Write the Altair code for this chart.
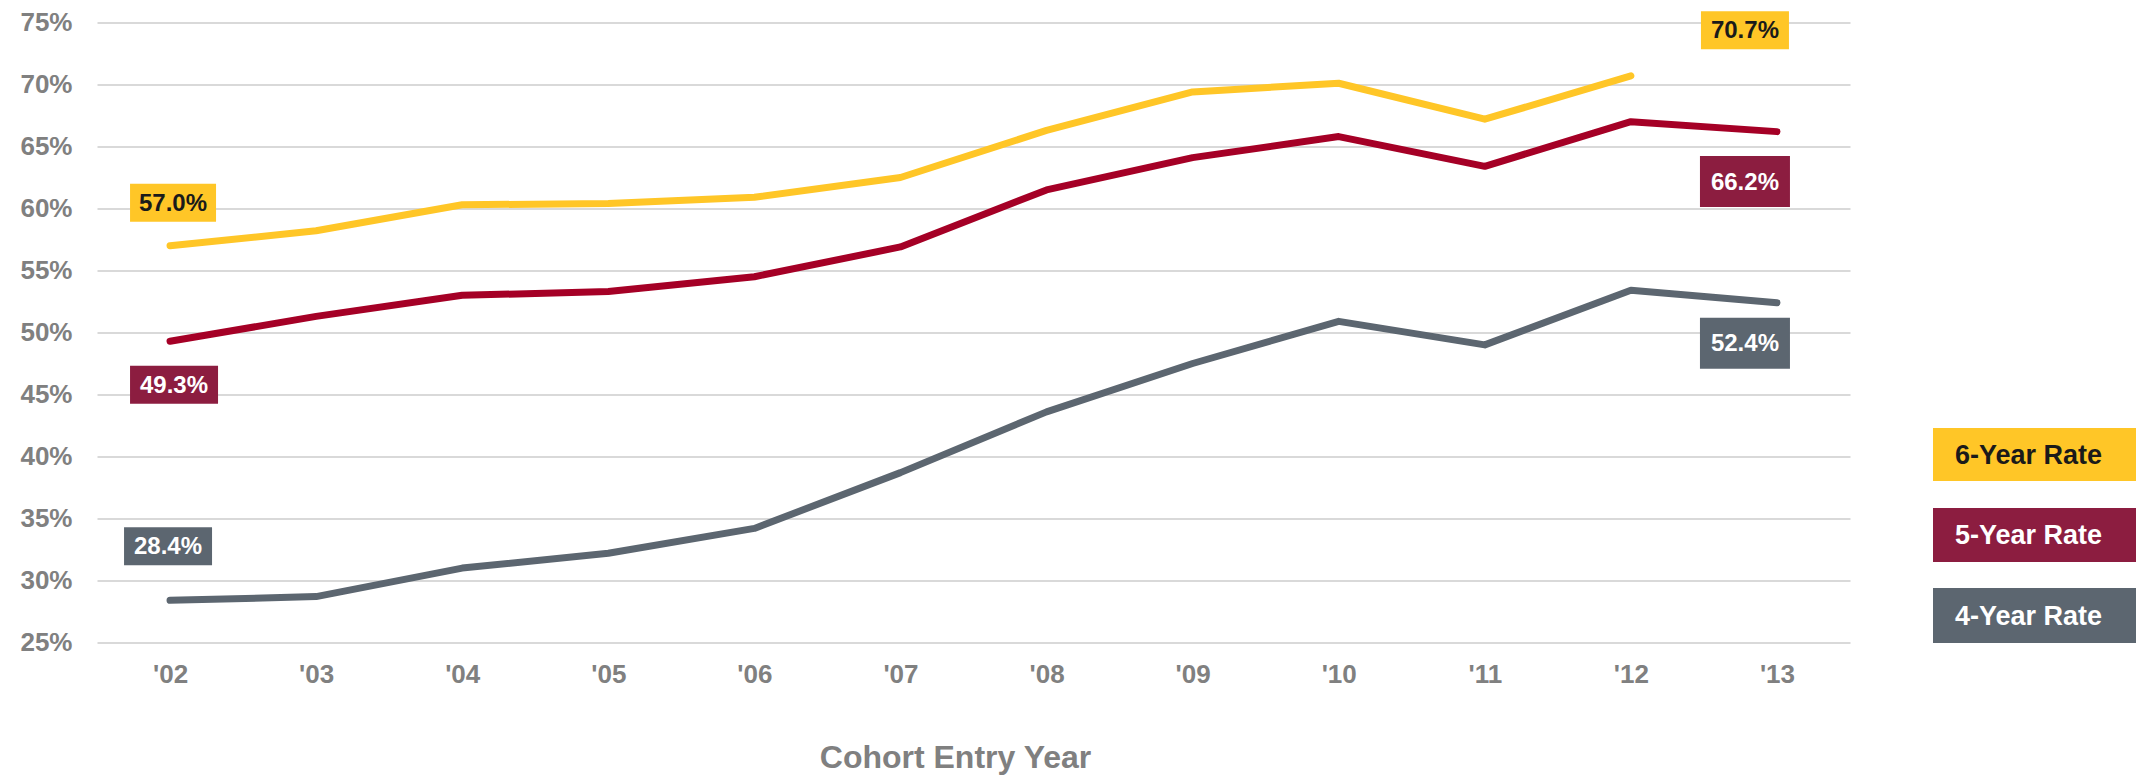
import altair as alt
import pandas as pd

# Cohort entry years (x categories)
years = ["'02", "'03", "'04", "'05", "'06", "'07", "'08", "'09", "'10", "'11", "'12", "'13"]

# Graduation rates (%) by cohort
rate_6yr = [57.0, 58.2, 60.3, 60.4, 60.9, 62.5, 66.3, 69.4, 70.1, 67.2, 70.7]
rate_5yr = [49.3, 51.3, 53.0, 53.3, 54.5, 56.9, 61.5, 64.1, 65.8, 63.4, 67.0, 66.2]
rate_4yr = [28.4, 28.7, 31.0, 32.2, 34.2, 38.7, 43.6, 47.5, 50.9, 49.0, 53.4, 52.4]

series_names = ["6-Year Rate", "5-Year Rate", "4-Year Rate"]
series_values = [rate_6yr, rate_5yr, rate_4yr]

# y-axis tick values
y_ticks = [25, 30, 35, 40, 45, 50, 55, 60, 65, 70, 75]

# colours
line_colors = ["#FFC627", "#A50026", "#5C6670"]
box_colors = ["#FFC627", "#8C1D40", "#5C6670"]
box_text_colors = ["#1a1a1a", "#FFFFFF", "#FFFFFF"]
axis_grey = "#808080"
FONT = "Liberation Sans"

rows = []
for name, vals in zip(series_names, series_values):
    for yr, v in zip(years, vals):
        rows.append({"series": name, "year": yr, "rate": v})
df = pd.DataFrame(rows)

x_enc = alt.X(
    "year:O",
    sort=years,
    scale=alt.Scale(type="point", padding=0.5, domain=years),
    axis=alt.Axis(
        title="Cohort Entry Year",
        labelAngle=0,
        labelFont=FONT,
        labelFontSize=26,
        labelFontWeight="bold",
        labelColor=axis_grey,
        labelBaseline="middle",
        labelPadding=32,
        ticks=False,
        tickSize=0,
        domain=False,
        grid=False,
        titleFont=FONT,
        titleFontSize=32,
        titleFontWeight="bold",
        titleColor=axis_grey,
        titleX=858,
        titleY=115,
        titleAlign="center",
        titleBaseline="middle",
    ),
)
y_scale = alt.Scale(domain=[25, 75], nice=False, zero=False)
y_enc = alt.Y(
    "rate:Q",
    scale=y_scale,
    axis=alt.Axis(
        title=None,
        values=y_ticks,
        labelExpr="datum.value + '%'",
        labelFont=FONT,
        labelFontSize=26,
        labelFontWeight="bold",
        labelColor=axis_grey,
        labelPadding=25,
        ticks=False,
        tickSize=0,
        domain=False,
        grid=True,
        gridColor="#D9D9D9",
        gridWidth=2,
    ),
)

lines = alt.Chart(df).mark_line(strokeWidth=7, strokeCap="round", strokeJoin="round").encode(
    x=x_enc,
    y=y_enc,
    color=alt.Color(
        "series:N",
        scale=alt.Scale(domain=series_names, range=line_colors),
        legend=None,
    ),
)

# value call-outs: first value at the first year, last value at the final column
# (dx, dy, box width, box height) in pixels
callout_style = {
    ("6-Year Rate", "start"): (3, -43, 86, 38),
    ("5-Year Rate", "start"): (4, 43.5, 88, 38),
    ("4-Year Rate", "start"): (-2, -54, 88, 38),
    ("6-Year Rate", "end"): (-32, -45.5, 88, 38),
    ("5-Year Rate", "end"): (-32, 50, 90, 51),
    ("4-Year Rate", "end"): (-32, 40.5, 90, 51),
}

layers = [lines]
for i, (name, vals) in enumerate(zip(series_names, series_values)):
    for pos, yr, v in (("start", years[0], vals[0]), ("end", years[-1], vals[-1])):
        dx, dy, bw, bh = callout_style[(name, pos)]
        d = pd.DataFrame([{"year": yr, "rate": v, "label": f"{v:.1f}%"}])
        half = bh / bw
        shape = f"M-1,-{half:.4f}L1,-{half:.4f}L1,{half:.4f}L-1,{half:.4f}Z"
        box = alt.Chart(d).mark_point(
            shape=shape,
            size=bw * bw,
            filled=True,
            opacity=1,
            fill=box_colors[i],
            strokeWidth=0,
            xOffset=dx,
            yOffset=dy,
        ).encode(
            x=alt.X("year:O", sort=years, scale=alt.Scale(type="point", padding=0.5, domain=years)),
            y=alt.Y("rate:Q", scale=y_scale),
        )
        txt = alt.Chart(d).mark_text(
            font=FONT,
            fontSize=24,
            fontWeight="bold",
            color=box_text_colors[i],
            align="center",
            baseline="middle",
            dx=dx,
            dy=dy + 1,
        ).encode(
            x=alt.X("year:O", sort=years, scale=alt.Scale(type="point", padding=0.5, domain=years)),
            y=alt.Y("rate:Q", scale=y_scale),
            text="label:N",
        )
        layers += [box, txt]

# legend boxes at the right of the plot
legend_rows = [(405.5, 458.5), (485.5, 539.5), (565.5, 620.5)]
for i, name in enumerate(series_names):
    y0, y1 = legend_rows[i]
    ld = pd.DataFrame([{"series": name}])
    rect = alt.Chart(ld).mark_rect(color=box_colors[i]).encode(
        x=alt.value(1836), x2=alt.value(2060), y=alt.value(y0), y2=alt.value(y1)
    )
    ltxt = alt.Chart(ld).mark_text(
        font=FONT,
        fontSize=27,
        fontWeight="bold",
        color=box_text_colors[i],
        align="left",
        baseline="middle",
    ).encode(x=alt.value(1858), y=alt.value((y0 + y1) / 2 + 1), text="series:N")
    layers += [rect, ltxt]

chart = alt.layer(*layers).properties(
    width=1753,
    height=620,
    padding={"left": 97, "top": 22.5, "right": 286, "bottom": 134.5},
    autosize=alt.AutoSizeParams(type="none"),
    background="white",
).configure_view(stroke=None)

chart.save("out.html", embed_options={"renderer": "svg", "actions": False})
